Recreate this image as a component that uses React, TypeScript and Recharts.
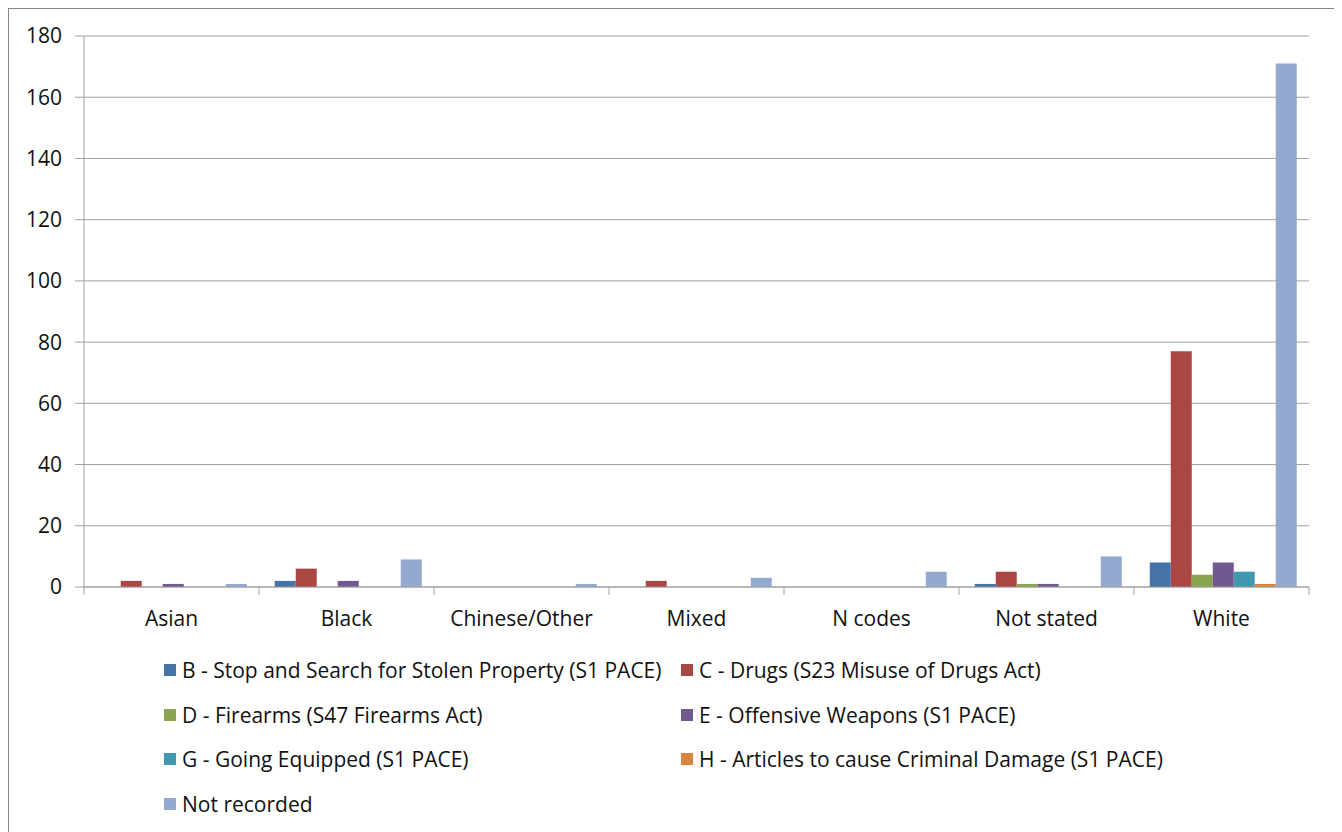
import React from 'react'
import { BarChart, Bar, XAxis, YAxis, CartesianGrid } from 'recharts'

const categories = ['Asian', 'Black', 'Chinese/Other', 'Mixed', 'N codes', 'Not stated', 'White']

const stolenProperty = [0, 2, 0, 0, 0, 1, 8]
const drugs = [2, 6, 0, 2, 0, 5, 77]
const firearms = [0, 0, 0, 0, 0, 1, 4]
const offensiveWeapons = [1, 2, 0, 0, 0, 1, 8]
const goingEquipped = [0, 0, 0, 0, 0, 0, 5]
const criminalDamage = [0, 0, 0, 0, 0, 0, 1]
const notRecorded = [1, 9, 1, 3, 5, 10, 171]

const yTicks = [0, 20, 40, 60, 80, 100, 120, 140, 160, 180]

const series = [
  { key: 'B', name: 'B - Stop and Search for Stolen Property (S1 PACE)', values: stolenProperty, color: '#4572A7' },
  { key: 'C', name: 'C - Drugs (S23 Misuse of Drugs Act)', values: drugs, color: '#AA4643' },
  { key: 'D', name: 'D - Firearms (S47 Firearms Act)', values: firearms, color: '#89A54E' },
  { key: 'E', name: 'E - Offensive Weapons (S1 PACE)', values: offensiveWeapons, color: '#71588F' },
  { key: 'G', name: 'G - Going Equipped (S1 PACE)', values: goingEquipped, color: '#4198AF' },
  { key: 'H', name: 'H - Articles to cause Criminal Damage (S1 PACE)', values: criminalDamage, color: '#DB843D' },
  { key: 'NR', name: 'Not recorded', values: notRecorded, color: '#93A9CF' },
]

const data = categories.map((cat, i) => {
  const row: Record<string, string | number> = { category: cat }
  series.forEach((s) => {
    row[s.key] = s.values[i]
  })
  return row
})

const FONT = '"Open Sans", sans-serif'
const AXIS = '#a0a0a0'
const TEXT = '#111'

// category label plus the boundary tick marks excel draws between groups
const CategoryTick = (props: any) => {
  const { x, y, payload, index, width } = props
  const band = (width || 1225) / categories.length
  const left = x - band / 2
  const right = x + band / 2
  return (
    <g>
      <line x1={left} y1={y} x2={left} y2={y + 8} stroke={AXIS} />
      {index === categories.length - 1 && <line x1={right} y1={y} x2={right} y2={y + 8} stroke={AXIS} />}
      <text x={x} y={y + 33} textAnchor="middle" dominantBaseline="middle" fill={TEXT} fontSize={21} fontFamily={FONT}>
        {payload.value}
      </text>
    </g>
  )
}

export default function App() {
  const rows: (typeof series)[] = []
  for (let i = 0; i < series.length; i += 2) rows.push(series.slice(i, i + 2))

  return (
    <div style={{ position: 'relative', width: 1325, height: 830, border: '1px solid #858585', background: '#fff', fontFamily: FONT }}>
      <BarChart
        width={1325}
        height={640}
        data={data}
        margin={{ top: 27, right: 25, left: 0, bottom: 0 }}
        barCategoryGap="9%"
        barGap={0}
      >
        <CartesianGrid vertical={false} stroke={AXIS} strokeWidth={1} />
        <XAxis
          dataKey="category"
          height={62}
          stroke={AXIS}
          tickLine={false}
          tickSize={0}
          tickMargin={0}
          interval={0}
          tick={<CategoryTick />}
        />
        <YAxis
          width={75}
          domain={[0, 180]}
          ticks={yTicks}
          stroke={AXIS}
          tickSize={9}
          tickMargin={13}
          tick={{ fill: TEXT, fontSize: 21, fontFamily: FONT }}
        />
        {series.map((s) => (
          <Bar key={s.key} dataKey={s.key} name={s.name} fill={s.color} isAnimationActive={false} />
        ))}
      </BarChart>
      <div style={{ position: 'absolute', left: 155, top: 639 }}>
        {rows.map((row, r) => (
          <div key={r} style={{ display: 'flex', height: 44.5, alignItems: 'center' }}>
            {row.map((s, c) => (
              <div key={s.key} style={{ display: 'flex', alignItems: 'center', width: c === 0 ? 517 : 'auto' }}>
                <span style={{ display: 'inline-block', width: 12, height: 12, background: s.color, marginRight: 6 }} />
                <span style={{ fontSize: 21, color: TEXT, whiteSpace: 'nowrap' }}>{s.name}</span>
              </div>
            ))}
          </div>
        ))}
      </div>
    </div>
  )
}
